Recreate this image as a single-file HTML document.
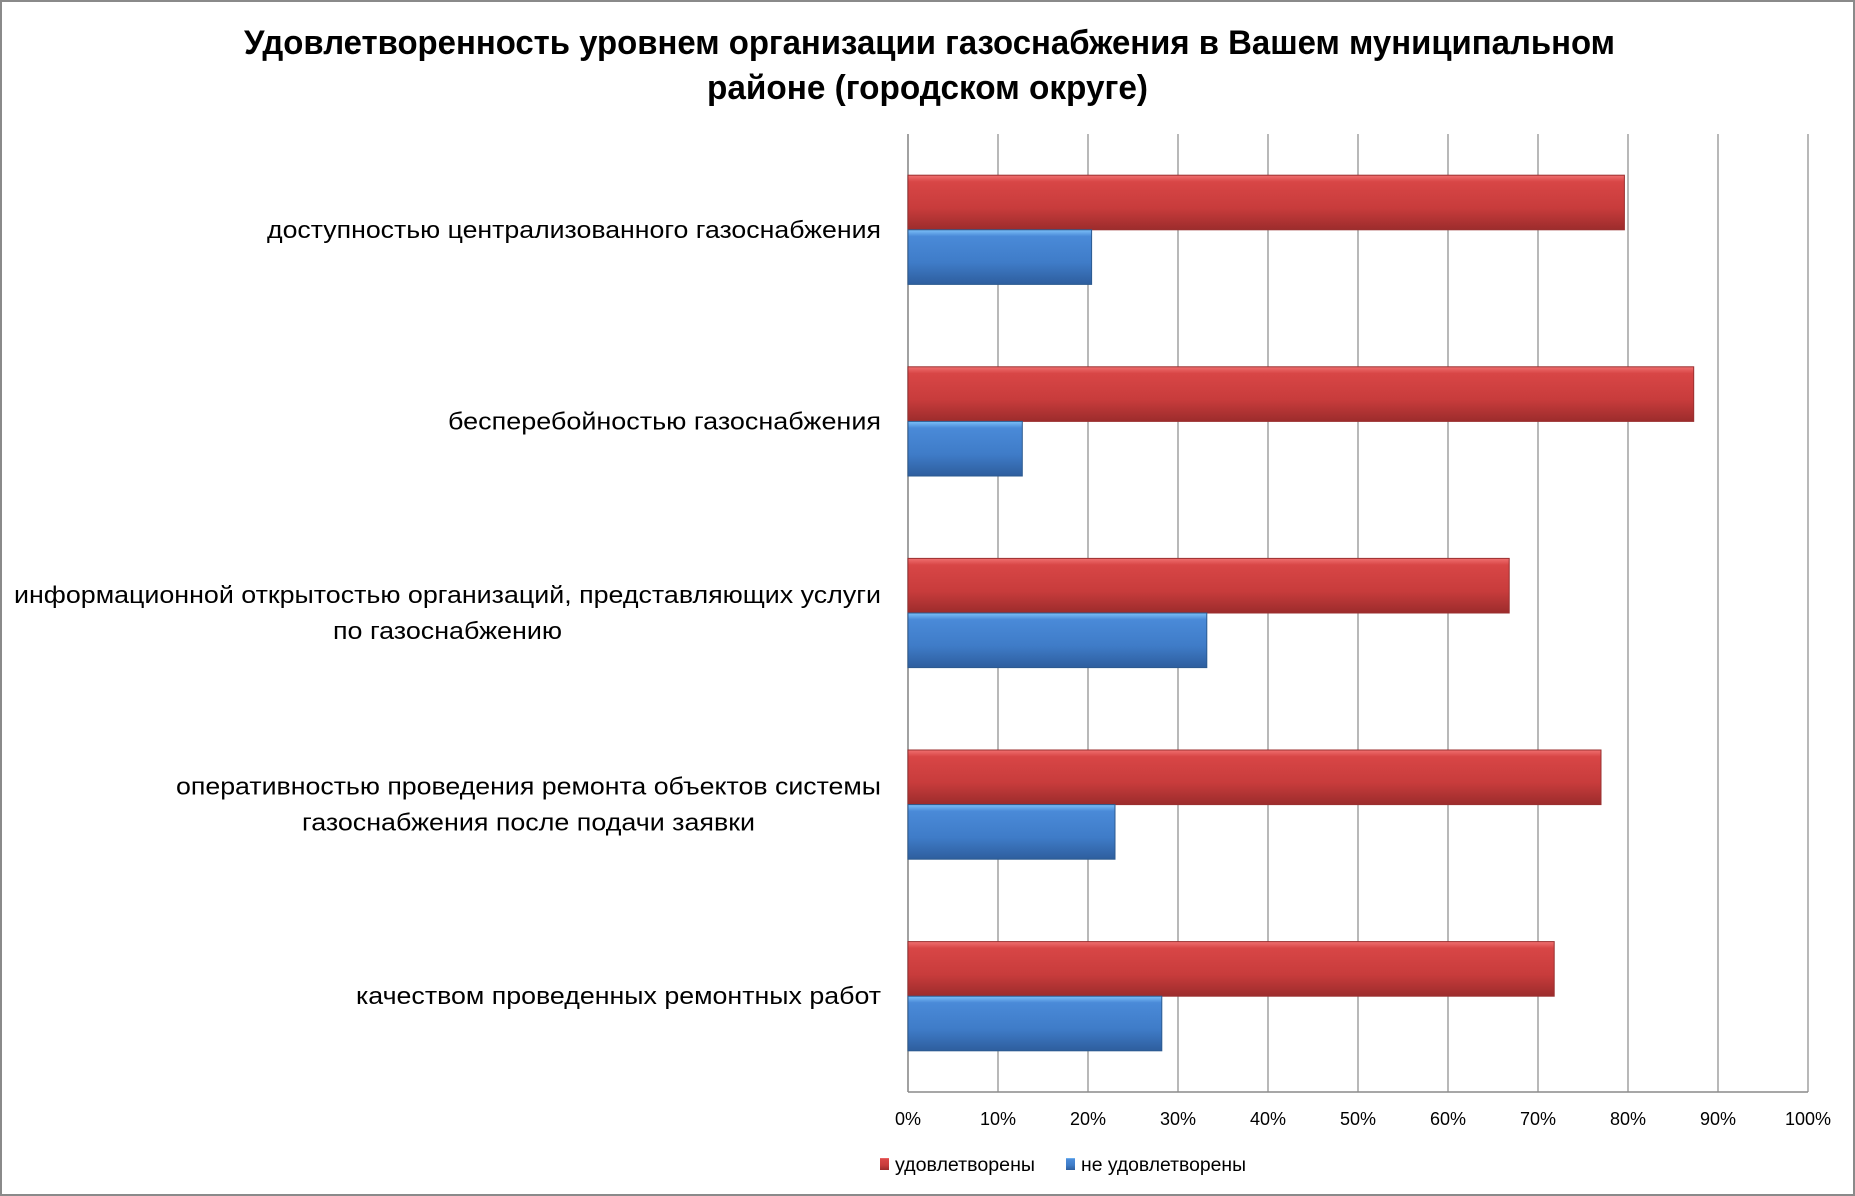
<!DOCTYPE html>
<html><head><meta charset="utf-8"><style>
html,body{margin:0;padding:0;background:#fff}
svg{display:block;font-family:"Liberation Sans","DejaVu Sans",sans-serif}
</style></head><body>
<svg id="chart" width="1855" height="1196" viewBox="0 0 1855 1196" xmlns="http://www.w3.org/2000/svg">
<defs>
<linearGradient id="gr" x1="0" y1="0" x2="0" y2="1">
<stop offset="0" stop-color="#f07070"/><stop offset="0.12" stop-color="#d84646"/><stop offset="0.6" stop-color="#c83c3c"/><stop offset="1" stop-color="#9c2c2c"/></linearGradient>
<linearGradient id="gb" x1="0" y1="0" x2="0" y2="1">
<stop offset="0" stop-color="#7cc0f8"/><stop offset="0.12" stop-color="#4a8ad8"/><stop offset="0.6" stop-color="#3f7cc8"/><stop offset="1" stop-color="#2e5e9e"/></linearGradient>
</defs>
<rect x="1" y="1" width="1853" height="1194" fill="#fff" stroke="#8a8a8a" stroke-width="2"/>
<g font-weight="bold" font-size="34" fill="#000">
<text x="244" y="54" textLength="1371" lengthAdjust="spacingAndGlyphs">Удовлетворенность уровнем организации газоснабжения в Вашем муниципальном</text>
<text x="707" y="99" textLength="441" lengthAdjust="spacingAndGlyphs">районе (городском округе)</text>
</g>
<g id="grid"></g><g id="bars"></g><g id="labels"></g><g id="ticks"></g>
<g font-size="19" fill="#000">
<rect x="880" y="1158" width="9" height="12" fill="url(#gr)"/>
<text x="895" y="1171" textLength="140" lengthAdjust="spacingAndGlyphs">удовлетворены</text>
<rect x="1066" y="1158" width="9" height="12" fill="url(#gb)"/>
<text x="1081" y="1171" textLength="165" lengthAdjust="spacingAndGlyphs">не удовлетворены</text>
</g>
</svg>
<script>
const categories=[["доступностью централизованного газоснабжения"],["бесперебойностью  газоснабжения"],["информационной открытостью организаций, представляющих услуги","по газоснабжению"],["оперативностью проведения ремонта объектов системы","газоснабжения после подачи заявки"],["качеством проведенных ремонтных работ"]];
const satisfied=[79.6,87.3,66.8,77.0,71.8];
const unsatisfied=[20.4,12.7,33.2,23.0,28.2];
const tickLabels=["0%","10%","20%","30%","40%","50%","60%","70%","80%","90%","100%"];
const labelWidths=[[614],[433],[867,229],[705,453],[525]];
const NS="http://www.w3.org/2000/svg";
const X0=908,X1=1808,Y0=134,Y1=1092;
const x=v=>X0+(X1-X0)*v/100;
const band=(Y1-Y0)/categories.length;
function mk(t,a,p){const e=document.createElementNS(NS,t);for(const k in a)e.setAttribute(k,a[k]);p.appendChild(e);return e;}
const grid=document.getElementById('grid'),bars=document.getElementById('bars'),labels=document.getElementById('labels'),ticks=document.getElementById('ticks');
tickLabels.forEach((t,i)=>{
  const v=i*10;
  const l=mk('line',{x1:x(v),x2:x(v),y1:Y0,y2:Y1,stroke:'#8a8a8a','stroke-width':1.2},grid);
  
  
  const tx=mk('text',{x:x(v),y:1125,'font-size':18,'text-anchor':'middle',fill:'#000'},ticks);
  
  
  tx.textContent=t;
});
const ax=mk('line',{x1:X0,x2:X1,y1:Y1,y2:Y1,stroke:'#8a8a8a','stroke-width':1.5},grid);


const ay=mk('line',{x1:X0,x2:X0,y1:Y0,y2:Y1,stroke:'#8a8a8a','stroke-width':1.5},grid);


categories.forEach((c,i)=>{
  const cy=Y0+band*(i+0.5);
  const h=band*0.285;
  const r=mk('rect',{x:X0,y:cy-h,width:x(satisfied[i])-X0,height:h,fill:'url(#gr)',stroke:'#9a3030','stroke-width':1},bars);
  
  
  const b=mk('rect',{x:X0,y:cy,width:x(unsatisfied[i])-X0,height:h,fill:'url(#gb)',stroke:'#2c5a90','stroke-width':1},bars);
  
  
  const n=c.length;
  c.forEach((line,j)=>{
    const y=cy+8+(j-(n-1)/2)*36;
    const w=labelWidths[i][j];
    const cx=881-labelWidths[i][0]/2;
    const t=mk('text',{x:j===0?881:cx,y:y,'font-size':24,'text-anchor':j===0?'end':'middle',fill:'#000',textLength:w,lengthAdjust:'spacingAndGlyphs'},labels);
    
    
    t.textContent=line;
  });
});
</script>
</body></html>
